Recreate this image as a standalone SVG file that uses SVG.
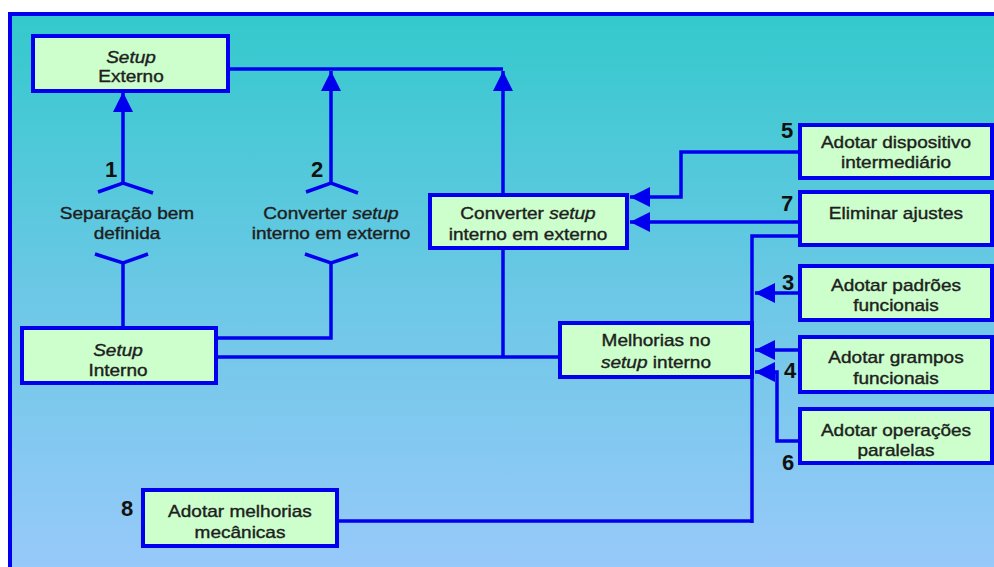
<svg xmlns="http://www.w3.org/2000/svg" width="994" height="567" viewBox="0 0 994 567">
  <defs>
    <linearGradient id="bg" x1="0" y1="0" x2="0" y2="1">
      <stop offset="0" stop-color="#33C9CC"/>
      <stop offset="0.5" stop-color="#6CC8E6"/>
      <stop offset="1" stop-color="#98C9FA"/>
    </linearGradient>
    <marker id="head" viewBox="0 0 20 20" refX="20" refY="10" markerWidth="20" markerHeight="20" markerUnits="userSpaceOnUse" orient="auto">
      <path d="M0,0 L20,10 L0,20 Z" fill="#0000EE"/>
    </marker>
    <style>
      .box { fill: #CCFFCC; stroke: #0000EE; stroke-width: 4; }
      .wire { fill: none; stroke: #0000EE; stroke-width: 3.5; }
      .lbl { font-family: "Liberation Sans", Arial, sans-serif; font-size: 17px; fill: #1e1e1e; stroke: #1e1e1e; stroke-width: 0.4; text-anchor: middle; }
      .num { font-family: "Liberation Sans", Arial, sans-serif; font-size: 22px; font-weight: bold; fill: #111; text-anchor: middle; }
      .it { font-style: italic; }
    </style>
  </defs>

  <!-- page and framed panel -->
  <rect x="0" y="0" width="994" height="567" fill="#FFFFFF"/>
  <rect x="10" y="14" width="1000" height="560" fill="url(#bg)" stroke="#0000EE" stroke-width="4"/>

  <!-- connectors -->
  <g id="connectors" class="wire">
    <path d="M228,69 H503"/>
    <path d="M503,195 V71" marker-end="url(#head)"/>
    <path d="M331,183 V71" marker-end="url(#head)"/>
    <path d="M123,183 V92" marker-end="url(#head)"/>
    <polyline points="98,192 123,183 153,193"/>
    <polyline points="95,254 123,263 148,254"/>
    <path d="M123,263 V328"/>
    <polyline points="306,192 331,183 358,193"/>
    <polyline points="305,254 331,263 358,254"/>
    <path d="M331,263 V338 H216"/>
    <path d="M216,357 H560"/>
    <path d="M503,248 V357"/>
    <path d="M800,152 H681 V197 H630" marker-end="url(#head)"/>
    <path d="M800,222 H630" marker-end="url(#head)"/>
    <path d="M800,236 H752 V523"/>
    <path d="M800,293 H755" marker-end="url(#head)"/>
    <path d="M800,350 H755" marker-end="url(#head)"/>
    <path d="M800,441 H777 V372 H755" marker-end="url(#head)"/>
    <path d="M337,521 H752"/>
  </g>

  <!-- free labels on the forked links (text is drawn slightly widened) -->
  <g id="step1">
    <text class="num" x="111" y="177">1</text>
    <text class="lbl" transform="translate(127 219) scale(1.12 1)">Separação bem</text>
    <text class="lbl" transform="translate(127 239) scale(1.12 1)">definida</text>
  </g>
  <g id="step2">
    <text class="num" x="317" y="177">2</text>
    <text class="lbl" transform="translate(331 219) scale(1.12 1)">Converter <tspan class="it">setup</tspan></text>
    <text class="lbl" transform="translate(331 239) scale(1.12 1)">interno em externo</text>
  </g>

  <g id="setup-externo">
    <rect class="box" x="33" y="36" width="195" height="55"/>
    <text class="lbl it" transform="translate(131 63) scale(1.12 1)">Setup</text>
    <text class="lbl" transform="translate(131 82) scale(1.12 1)">Externo</text>
  </g>

  <g id="setup-interno">
    <rect class="box" x="22" y="328" width="194" height="55"/>
    <text class="lbl it" transform="translate(118 356) scale(1.12 1)">Setup</text>
    <text class="lbl" transform="translate(118 376) scale(1.12 1)">Interno</text>
  </g>

  <g id="converter">
    <rect class="box" x="430" y="195" width="197" height="53"/>
    <text class="lbl" transform="translate(528 219) scale(1.12 1)">Converter <tspan class="it">setup</tspan></text>
    <text class="lbl" transform="translate(528 240) scale(1.12 1)">interno em externo</text>
  </g>

  <g id="melhorias">
    <rect class="box" x="560" y="323" width="192" height="54"/>
    <text class="lbl" transform="translate(656 346) scale(1.12 1)">Melhorias no</text>
    <text class="lbl" transform="translate(656 368) scale(1.12 1)"><tspan class="it">setup</tspan> interno</text>
  </g>

  <g id="op5">
    <rect class="box" x="800" y="125" width="192" height="53"/>
    <text class="num" x="787" y="138">5</text>
    <text class="lbl" transform="translate(896 148) scale(1.12 1)">Adotar dispositivo</text>
    <text class="lbl" transform="translate(896 168) scale(1.12 1)">intermediário</text>
  </g>

  <g id="op7">
    <rect class="box" x="800" y="192" width="192" height="53"/>
    <text class="num" x="787" y="211">7</text>
    <text class="lbl" transform="translate(896 219) scale(1.12 1)">Eliminar ajustes</text>
  </g>

  <g id="op3">
    <rect class="box" x="800" y="266" width="192" height="54"/>
    <text class="num" x="788" y="290">3</text>
    <text class="lbl" transform="translate(896 291) scale(1.12 1)">Adotar padrões</text>
    <text class="lbl" transform="translate(896 311) scale(1.12 1)">funcionais</text>
  </g>

  <g id="op4">
    <rect class="box" x="800" y="337" width="192" height="55"/>
    <text class="num" x="790" y="378">4</text>
    <text class="lbl" transform="translate(896 363) scale(1.12 1)">Adotar grampos</text>
    <text class="lbl" transform="translate(896 384) scale(1.12 1)">funcionais</text>
  </g>

  <g id="op6">
    <rect class="box" x="800" y="409" width="192" height="54"/>
    <text class="num" x="788" y="470">6</text>
    <text class="lbl" transform="translate(896 436) scale(1.12 1)">Adotar operações</text>
    <text class="lbl" transform="translate(896 456) scale(1.12 1)">paralelas</text>
  </g>

  <g id="op8">
    <rect class="box" x="143" y="490" width="194" height="56"/>
    <text class="num" x="127" y="516">8</text>
    <text class="lbl" transform="translate(240 517) scale(1.12 1)">Adotar melhorias</text>
    <text class="lbl" transform="translate(240 538) scale(1.12 1)">mecânicas</text>
  </g>
</svg>
